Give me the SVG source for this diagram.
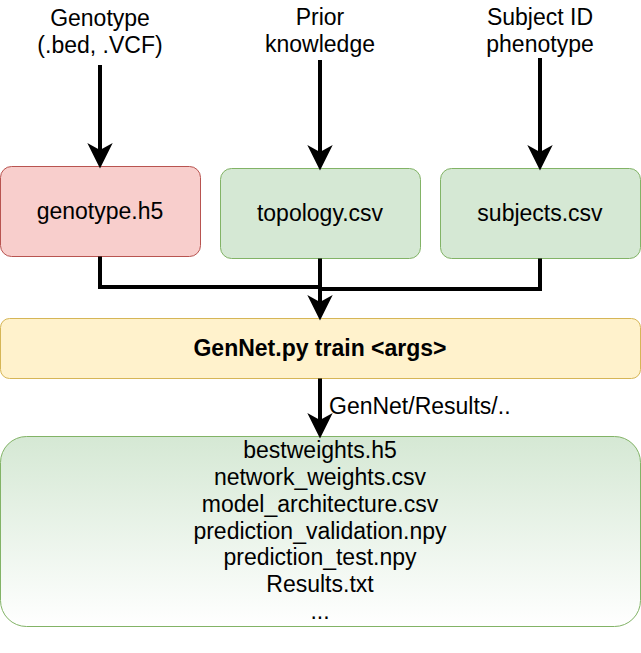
<svg xmlns="http://www.w3.org/2000/svg" width="641" height="653" viewBox="0 0 641 653">
<style>
  .t { font-family: "Liberation Sans", Arial, sans-serif; font-size: 23px; fill: #000; text-anchor: middle; }
  .b { font-weight: bold; }
  .lbl { font-family: "Liberation Sans", Arial, sans-serif; font-size: 23px; fill: #000; }
  .red { fill: #f8cecc; stroke: #b85450; stroke-width: 1; }
  .green { fill: #d5e8d4; stroke: #82b366; stroke-width: 1; }
  .yellow { fill: #fff2cc; stroke: #d6b656; stroke-width: 1; }
  .res { fill: url(#grad); stroke: #82b366; stroke-width: 1; }
  .conn { fill: none; stroke: #000; stroke-width: 4; }
</style>
<defs>
  <linearGradient id="grad" x1="0" y1="0" x2="0" y2="1">
    <stop offset="0" stop-color="#d5e8d4"/>
    <stop offset="1" stop-color="#ffffff"/>
  </linearGradient>
  <marker id="arr" markerUnits="userSpaceOnUse" markerWidth="30" markerHeight="30" viewBox="-8 -12 26 24" refX="0" refY="0" orient="auto" overflow="visible">
    <path d="M16,0 L-6,-11 L0,0 L-6,11 Z" fill="#000"/>
  </marker>
</defs>

<g id="label-genotype">
  <text class="t" x="100" y="26">Genotype</text>
  <text class="t" x="100" y="53">(.bed, .VCF)</text>
</g>
<g id="label-prior">
  <text class="t" x="320" y="25">Prior</text>
  <text class="t" x="320" y="52">knowledge</text>
</g>
<g id="label-subject">
  <text class="t" x="540" y="25">Subject ID</text>
  <text class="t" x="540" y="52">phenotype</text>
</g>

<g id="genotype-h5">
  <rect class="red" x="0.5" y="166.5" width="200" height="90" rx="11"/>
  <text class="t" x="100" y="219">genotype.h5</text>
</g>
<g id="topology-csv">
  <rect class="green" x="220.5" y="168.5" width="200" height="90" rx="11"/>
  <text class="t" x="320" y="221">topology.csv</text>
</g>
<g id="subjects-csv">
  <rect class="green" x="440.5" y="168.5" width="200" height="90" rx="11"/>
  <text class="t" x="540" y="221">subjects.csv</text>
</g>

<g id="gennet-train">
  <rect class="yellow" x="0.5" y="318.5" width="640" height="60" rx="9"/>
  <text class="t b" x="320" y="356">GenNet.py train &lt;args&gt;</text>
</g>

<g id="results">
  <rect class="res" x="0.5" y="436.5" width="640" height="190" rx="26"/>
  <text class="t" x="320" y="458">bestweights.h5</text>
  <text class="t" x="320" y="485">network_weights.csv</text>
  <text class="t" x="320" y="511.5">model_architecture.csv</text>
  <text class="t" x="320" y="538.5">prediction_validation.npy</text>
  <text class="t" x="320" y="565">prediction_test.npy</text>
  <text class="t" x="320" y="592">Results.txt</text>
  <text class="t" x="320" y="619">...</text>
</g>

<g id="connectors">
  <path class="conn" d="M100,65 L100,150" marker-end="url(#arr)"/>
  <path class="conn" d="M320,60 L320,152" marker-end="url(#arr)"/>
  <path class="conn" d="M540,58 L540,152" marker-end="url(#arr)"/>
  <path class="conn" d="M100,256.5 L100,287 L320,287 L320,302" marker-end="url(#arr)"/>
  <path class="conn" d="M320,258.5 L320,302"/>
  <path class="conn" d="M540,258.5 L540,289 L320,289"/>
  <path class="conn" d="M320,378.5 L320,420" marker-end="url(#arr)"/>
  <text class="lbl" x="329" y="414">GenNet/Results/..</text>
</g>
</svg>
